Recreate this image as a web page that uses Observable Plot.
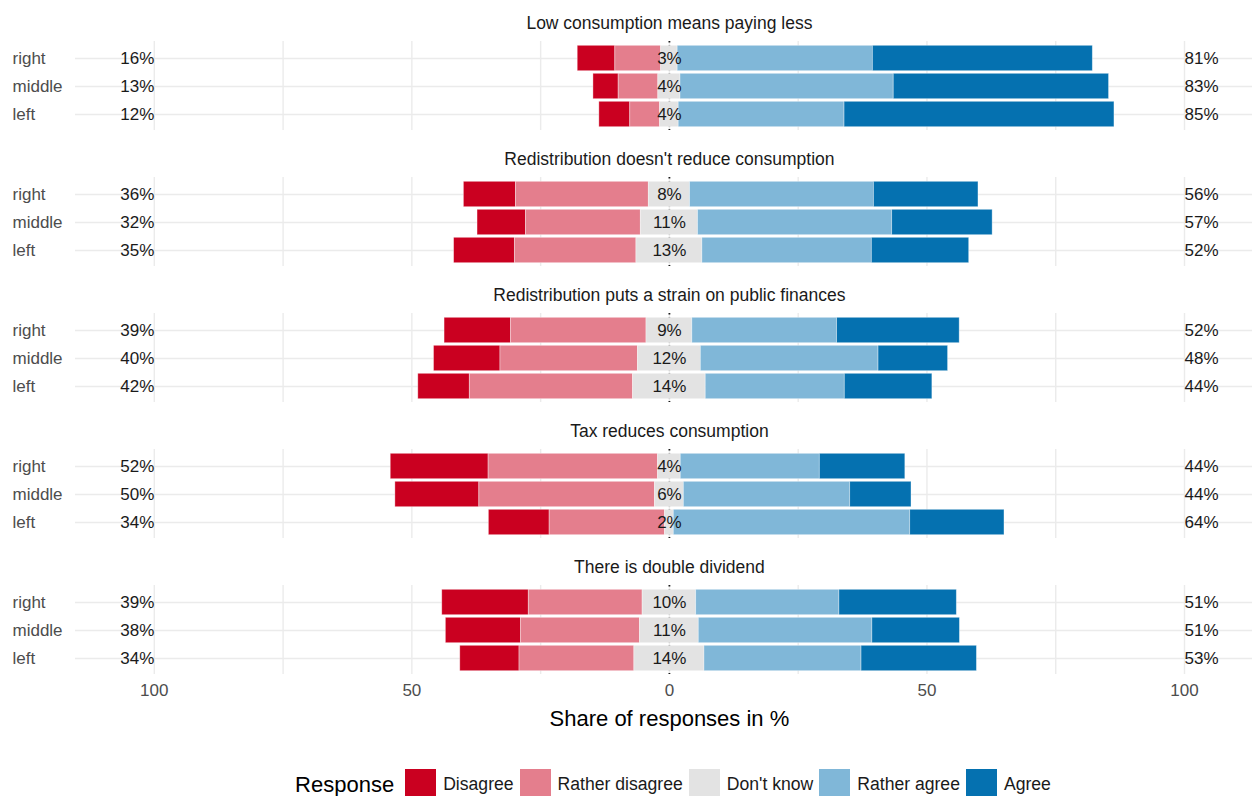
<!DOCTYPE html>
<html><head><meta charset="utf-8">
<script src="https://cdn.jsdelivr.net/npm/d3@7"></script>
<script src="https://cdn.jsdelivr.net/npm/@observablehq/plot@0.6"></script>
<style>
body{margin:0;background:#fff;font-family:"Liberation Sans",Arial,sans-serif;}
#legend{display:flex;align-items:center;justify-content:center;margin-top:28px;padding-left:94px;}
#legend .ttl{font-size:22px;color:#000;margin-right:11px;}
.resp-swatches{margin:0 !important;}
.resp-swatch{margin-right:6px !important;}
.resp-swatch > svg{margin-right:7px !important;}
.resp-swatch:last-child{margin-right:0 !important;}
</style></head><body><div id="chart"></div><div id="legend"><span class="ttl">Response</span></div>
<script>
const questions = [
  "Low consumption means paying less",
  "Redistribution doesn't reduce consumption",
  "Redistribution puts a strain on public finances",
  "Tax reduces consumption",
  "There is double dividend"
];
const groups = ["right", "middle", "left"];
const responses = ["Disagree", "Rather disagree", "Don't know", "Rather agree", "Agree"];
const colors = ["#ca0020", "#e47e8d", "#e3e3e3", "#80b7d8", "#0571b0"];
// values in %, question-major, groups in order right, middle, left
const disagree       = [7.3, 4.9, 6.0, 10.1, 9.4, 11.8, 12.9, 12.9, 10.0, 19.0, 16.3, 11.8, 16.8, 14.6, 11.5];
const ratherDisagree = [8.9, 7.7, 5.8, 25.8, 22.3, 23.6, 26.3, 26.7, 31.7, 32.9, 34.1, 22.4, 22.1, 23.1, 22.3];
const dontKnow       = [3.2, 4.3, 3.6, 8.0, 11.1, 12.8, 8.9, 12.2, 14.1, 4.4, 5.6, 1.7, 10.4, 11.4, 13.6];
const ratherAgree    = [37.9, 41.4, 32.2, 35.7, 37.7, 32.9, 28.1, 34.5, 27.0, 27.0, 32.3, 45.9, 27.8, 33.7, 30.5];
const agree          = [42.7, 41.8, 52.4, 20.3, 19.5, 18.9, 23.8, 13.5, 17.0, 16.6, 11.9, 18.3, 22.8, 17.0, 22.4];
const xTicks = [-100, -50, 0, 50, 100];
const gridTicks = [-100, -75, -50, -25, 0, 25, 50, 75, 100];
const xTitle = "Share of responses in %";
const labelPos = 100;
const xDomain = [-115.3, 113.2];

const rows = [];
const segs = [];
questions.forEach((q, qi) => groups.forEach((g, gi) => {
  const i = qi * 3 + gi;
  const d = disagree[i], rd = ratherDisagree[i], dk = dontKnow[i], ra = ratherAgree[i], a = agree[i];
  const lo = -dk / 2, hi = dk / 2;
  segs.push({question: q, group: g, response: responses[0], x1: lo - rd - d, x2: lo - rd});
  segs.push({question: q, group: g, response: responses[1], x1: lo - rd, x2: lo});
  segs.push({question: q, group: g, response: responses[2], x1: lo, x2: hi});
  segs.push({question: q, group: g, response: responses[3], x1: hi, x2: hi + ra});
  segs.push({question: q, group: g, response: responses[4], x1: hi + ra, x2: hi + ra + a});
  rows.push({question: q, group: g, center: (lo + hi) / 2,
    neg: Math.round(d + rd) + "%", dk: Math.round(dk) + "%", pos: Math.round(ra + a) + "%"});
}));

const font = "'Liberation Sans', Arial, sans-serif";
const chart = Plot.plot({
  width: 1252, height: 740,
  marginTop: 40, marginBottom: 65, marginLeft: 75, marginRight: 0,
  style: {fontFamily: font, fontSize: "17px", color: "#1a1a1a", background: "#fff"},
  x: {domain: xDomain},
  y: {domain: groups, paddingInner: 0, paddingOuter: 0.07, axis: null},
  fy: {domain: questions, paddingInner: 0.348, paddingOuter: 0, axis: null},
  color: {domain: responses, range: colors},
  marks: [
    Plot.ruleY(rows, {y: "group", fy: "question", stroke: "#ebebeb", strokeWidth: 1.4}),
    Plot.ruleX(gridTicks, {stroke: "#ebebeb", strokeWidth: 1.4}),
    Plot.ruleX([0], {stroke: "#1a1a1a", strokeWidth: 1.8, strokeDasharray: "1.6,2.4"}),
    Plot.barX(segs, {fy: "question", y: "group", x1: "x1", x2: "x2", fill: "response",
      insetTop: 1.3, insetBottom: 1.3, stroke: "#fff", strokeOpacity: 0.45, strokeWidth: 0.8}),
    Plot.text(rows, {fy: "question", y: "group", x: "center", text: "dk", fill: "#1a1a1a", fontSize: 17}),
    Plot.text(rows, {fy: "question", y: "group", x: () => -labelPos, text: "neg", textAnchor: "end", fill: "#1a1a1a", fontSize: 17}),
    Plot.text(rows, {fy: "question", y: "group", x: () => labelPos, text: "pos", textAnchor: "start", fill: "#1a1a1a", fontSize: 17}),
    Plot.text(rows, {fy: "question", y: "group", frameAnchor: "left", dx: -63, text: "group", textAnchor: "start", fill: "#4d4d4d", fontSize: 17}),
    Plot.text(questions, {fy: d => d, x: () => 0, text: d => d, frameAnchor: "top", lineAnchor: "middle", dy: -18, fill: "#1a1a1a", fontSize: 17.5}),
    Plot.axisX(xTicks, {tickFormat: d => Math.abs(d), tickSize: 0, tickPadding: 9, fill: "#4d4d4d", fontSize: 17, label: null}),
    Plot.text([xTitle], {fy: () => questions[questions.length - 1], x: () => 0, text: d => d, frameAnchor: "bottom", lineAnchor: "middle", dy: 44, fill: "#000", fontSize: 22})
  ]
});
document.getElementById("chart").appendChild(chart);

const leg = Plot.legend({
  color: {domain: responses, range: colors},
  legend: "swatches", swatchSize: 31, className: "resp",
  style: {fontSize: "17.6px", fontFamily: font, color: "#1a1a1a"}
});
document.getElementById("legend").appendChild(leg);
</script></body></html>
